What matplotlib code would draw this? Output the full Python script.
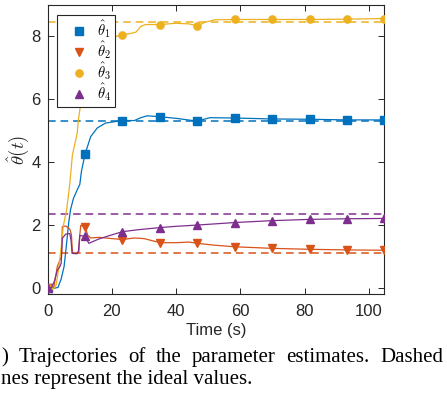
import numpy as np
import matplotlib.pyplot as plt
from matplotlib.lines import Line2D

plt.rcParams["font.family"] = ["Liberation Sans", "DejaVu Sans"]
plt.rcParams["mathtext.fontset"] = "cm"

# estimate trajectories (time in s)
t_mark = [0.0, 11.65, 23.3, 35.0, 46.6, 58.3, 69.9, 81.6, 93.2, 104.85]

t1 = [0.0, 2.0, 3.2, 4.2, 5.1, 5.6, 6.1, 6.5, 7.1, 8.0, 9.2, 10.0, 10.5,
      11.65, 13.4, 15.4, 18.0, 23.3, 27.0, 29.0, 31.0, 35.0, 40.0, 46.6,
      50.5, 58.3, 69.9, 81.6, 93.2, 104.85]
y1 = [0.0, 0.0, 0.03, 0.3, 0.69, 1.15, 1.64, 2.05, 2.49, 2.85, 3.13, 3.3,
      3.71, 4.27, 4.82, 5.09, 5.25, 5.33, 5.33, 5.42, 5.48, 5.45, 5.4, 5.31,
      5.42, 5.41, 5.38, 5.37, 5.35, 5.35]

t2 = [0.0, 1.9, 2.5, 3.0, 3.8, 4.3, 4.55, 5.6, 6.9, 7.4, 7.7, 8.7, 9.7,
      10.0, 10.3, 11.65, 12.5, 13.4, 16.0, 20.0, 23.3, 27.0, 30.0, 35.0,
      40.0, 44.0, 46.6, 52.0, 58.3, 69.9, 81.6, 93.2, 104.85]
y2 = [0.0, 0.03, 0.4, 0.69, 0.9, 1.0, 1.96, 1.98, 1.88, 1.7, 1.14, 1.1,
      1.15, 1.7, 2.0, 1.96, 1.68, 1.6, 1.62, 1.58, 1.55, 1.6, 1.58, 1.45,
      1.45, 1.47, 1.43, 1.37, 1.32, 1.27, 1.24, 1.22, 1.21]

t3 = [0.0, 2.0, 2.6, 3.4, 4.2, 4.9, 5.9, 6.9, 7.7, 9.2, 9.5, 10.3, 11.1,
      11.65, 13.5, 16.0, 20.0, 23.3, 26.0, 27.5, 29.0, 30.5, 35.0, 40.0,
      44.0, 46.6, 49.0, 52.0, 58.3, 69.9, 81.6, 93.2, 104.85]
y3 = [0.0, 0.0, 0.1, 0.6, 1.3, 2.0, 2.49, 3.34, 4.24, 4.93, 5.3, 5.88,
      6.3, 6.9, 7.55, 7.85, 7.97, 8.05, 8.1, 8.14, 8.32, 8.38, 8.38, 8.42,
      8.4, 8.34, 8.45, 8.53, 8.54, 8.54, 8.54, 8.55, 8.57]

t4 = [0.0, 1.2, 2.2, 3.0, 3.8, 4.2, 4.55, 5.6, 6.9, 7.3, 7.6, 9.2, 9.6,
      10.0, 11.65, 12.8, 16.0, 20.0, 23.3, 28.0, 35.0, 40.0, 46.6, 58.3,
      69.9, 81.6, 93.2, 104.85]
y4 = [0.0, 0.02, 0.26, 0.58, 0.69, 0.8, 1.59, 1.72, 1.74, 1.5, 1.11, 1.1,
      1.2, 1.68, 1.65, 1.43, 1.57, 1.7, 1.8, 1.86, 1.93, 1.97, 2.01, 2.09,
      2.15, 2.19, 2.21, 2.22]

# ideal parameter values
theta_true = [5.31, 1.12, 8.45, 2.37]

series = [(t1, y1), (t2, y2), (t3, y3), (t4, y4)]
colors = ["#0072BD", "#D95319", "#EDB120", "#7E2F8E"]
markers = ["s", "v", "o", "^"]
labels = [r"$\hat{\theta}_1$", r"$\hat{\theta}_2$", r"$\hat{\theta}_3$", r"$\hat{\theta}_4$"]

fig = plt.figure(figsize=(4.47, 4.0), dpi=100)
ax = fig.add_axes([0.1067, 0.265, 0.753, 0.7225])

t_end = t_mark[-1]
for (t, y), c, m, val in zip(series, colors, markers, theta_true):
    t = np.asarray(t)
    idx = np.nonzero(np.isin(t, t_mark))[0].tolist()
    ax.plot(t, y, color=c, lw=0.9, marker=m, markevery=idx, ms=5.2,
            mec=c, mfc=c, zorder=3)
    ax.plot([0, t_end], [val, val], color=c, lw=1.1, ls=(0, (5, 3.2)), zorder=2)

handles = [Line2D([], [], ls="none", marker=m, color=c, ms=5.2)
           for m, c in zip(markers, colors)]
leg = ax.legend(handles, labels, loc="upper left", bbox_to_anchor=(0.028, 0.966),
                borderaxespad=0, fancybox=False, framealpha=1, edgecolor="#262626",
                fontsize=10.5, handlelength=2.5, handletextpad=0.0,
                labelspacing=-0.05, borderpad=0.25)
leg.get_frame().set_linewidth(0.8)
leg.set_zorder(5)

ax.set_xlim(0, t_end)
ax.set_ylim(-0.18, 9.0)
ax.set_xticks([0, 20, 40, 60, 80, 100])
ax.set_yticks([0, 2, 4, 6, 8])
ax.tick_params(direction="in", top=True, right=True, length=4, width=0.7,
               colors="#262626", labelsize=12)
ax.tick_params(axis="x", pad=7)
ax.tick_params(axis="y", pad=5)
for s in ax.spines.values():
    s.set_color("#262626")
    s.set_linewidth(0.8)

ax.set_xlabel("Time (s)", fontsize=12, color="#262626", labelpad=3)
ax.set_ylabel(r"$\hat{\theta}(t)$", fontsize=13.5, color="#262626")
ax.yaxis.set_label_coords(-0.05, 0.5)

# caption below the plot; first line is justified between x0 and x1
cap_font = dict(family="Liberation Serif", fontsize=15, va="baseline")
words = [")", "Trajectories", "of", "the", "parameter", "estimates.", "Dashed"]
x0, x1 = 1, 443
renderer = fig.canvas.get_renderer()
texts = [fig.text(0, 1 - 362 / 400, w, **cap_font) for w in words]
widths = [tx.get_window_extent(renderer).width for tx in texts]
gap = (x1 - x0 - sum(widths)) / (len(words) - 1)
x = x0
for tx, w in zip(texts, widths):
    tx.set_x(x / 447)
    x += w + gap
fig.text(x0 / 447, 1 - 384 / 400, "nes represent the ideal values.", **cap_font)

fig.savefig("out.png", dpi=100)
